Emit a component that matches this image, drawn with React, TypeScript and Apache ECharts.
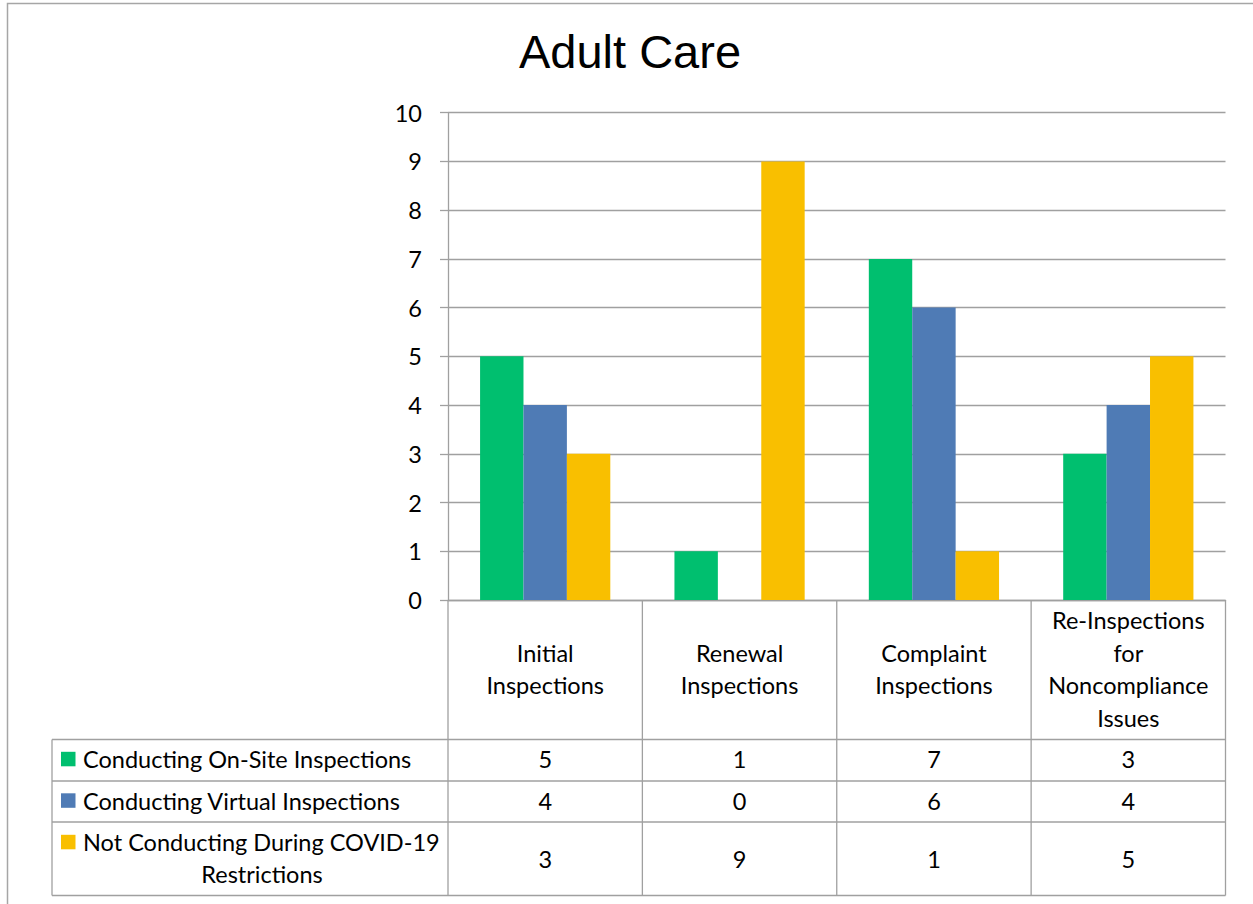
import React, { useEffect, useRef } from 'react';
import * as echarts from 'echarts';

const chartTitle = 'Adult Care';
const categories = [
  'Initial\nInspections',
  'Renewal\nInspections',
  'Complaint\nInspections',
  'Re-Inspections\nfor\nNoncompliance\nIssues',
];
const seriesNames = [
  'Conducting On-Site Inspections',
  'Conducting Virtual Inspections',
  'Not Conducting During COVID-19 Restrictions',
];
const onSite = [5, 1, 7, 3];
const virtualInsp = [4, 0, 6, 4];
const notConducting = [3, 9, 1, 5];
const yMin = 0;
const yMax = 10;
const yInterval = 1;

const colors = ['#00BF6F', '#4F7BB5', '#F9BF00'];
const gridColor = '#A0A0A0';
const FONT = 'Lato, "Noto Sans", sans-serif';
const FS = 23.5;

const W = 1253;
const H = 904;
const GL = 448;
const GR = 1225.5;
const GT = 112.7;
const GB = 600;
const LEG_L = 52;
const rowLines = [739.5, 781, 822, 895.5];
const rowCenters = [759, 800.5, 858.5];

export default function App() {
  const ref = useRef<HTMLDivElement>(null);
  useEffect(() => {
    if (!ref.current) return;
    const chart = echarts.init(ref.current, undefined, { renderer: 'svg' });
    const allSeries = [onSite, virtualInsp, notConducting];
    const colW = (GR - GL) / categories.length;

    const graphics: any[] = [];
    graphics.push({
      type: 'rect',
      shape: { x: 7.5, y: 3.5, width: W + 10, height: H + 10 },
      style: { fill: 'none', stroke: '#A6A6A6', lineWidth: 1.5 },
      silent: true,
    });
    rowLines.forEach((y) => {
      graphics.push({
        type: 'line',
        shape: { x1: LEG_L, y1: y, x2: GR, y2: y },
        style: { stroke: gridColor, lineWidth: 1.3 },
      });
    });
    graphics.push({
      type: 'line',
      shape: { x1: LEG_L, y1: rowLines[0], x2: LEG_L, y2: rowLines[rowLines.length - 1] },
      style: { stroke: gridColor, lineWidth: 1.3 },
    });
    for (let i = 0; i <= categories.length; i++) {
      const x = GL + i * colW;
      graphics.push({
        type: 'line',
        shape: { x1: x, y1: GB, x2: x, y2: rowLines[rowLines.length - 1] },
        style: { stroke: gridColor, lineWidth: 1.3 },
      });
    }
    seriesNames.forEach((name, i) => {
      const cy = i < 2 ? rowCenters[i] : 842;
      graphics.push({
        type: 'rect',
        shape: { x: 61, y: cy - 7.2, width: 14.5, height: 14.5 },
        style: { fill: colors[i] },
      });
      if (i < 2) {
        graphics.push({
          type: 'text',
          x: 83,
          y: cy,
          style: {
            text: name,
            font: `${FS}px ${FONT}`,
            fill: '#000',
            align: 'left',
            verticalAlign: 'middle',
          },
        });
      } else {
        const words = name.split(' ');
        const line1 = words.slice(0, 4).join(' ');
        const line2 = words.slice(4).join(' ');
        graphics.push({
          type: 'text',
          x: 83,
          y: 841.7,
          style: { text: line1, font: `${FS}px ${FONT}`, fill: '#000', align: 'left', verticalAlign: 'middle' },
        });
        graphics.push({
          type: 'text',
          x: 262,
          y: 873.7,
          style: { text: line2, font: `${FS}px ${FONT}`, fill: '#000', align: 'center', verticalAlign: 'middle' },
        });
      }
    });
    graphics.push({
      type: 'text',
      x: 630,
      y: 51,
      style: {
        text: chartTitle,
        font: '47px "Liberation Sans", Arial, sans-serif',
        fill: '#000',
        align: 'center',
        verticalAlign: 'middle',
      },
    });

    const valueAxes = allSeries.map((vals, k) => ({
      type: 'category',
      data: categories,
      position: 'bottom',
      gridIndex: 0,
      axisLine: { show: false },
      axisTick: { show: false },
      splitLine: { show: false },
      axisLabel: {
        interval: 0,
        margin: rowCenters[k] - GB,
        verticalAlign: 'middle',
        fontFamily: FONT,
        fontSize: FS,
        color: '#000',
        formatter: (_v: string, idx: number) => String(vals[idx]),
      },
    }));

    chart.setOption({
      animation: false,
      backgroundColor: '#fff',
      graphic: graphics,
      grid: { left: GL, right: W - GR, top: GT, bottom: H - GB, containLabel: false },
      xAxis: [
        {
          type: 'category',
          data: categories,
          position: 'bottom',
          axisLine: { show: true, lineStyle: { color: gridColor, width: 1.3 } },
          axisTick: { show: false },
          axisLabel: {
            interval: 0,
            margin: 669 - GB,
            verticalAlign: 'middle',
            lineHeight: 32.8,
            fontFamily: FONT,
            fontSize: FS,
            color: '#000',
          },
        },
        ...valueAxes,
      ],
      yAxis: {
        type: 'value',
        min: yMin,
        max: yMax,
        interval: yInterval,
        axisLine: { show: true, lineStyle: { color: gridColor, width: 1.3 } },
        axisTick: { show: true, length: 8, lineStyle: { color: gridColor, width: 1.3 } },
        splitLine: { show: true, lineStyle: { color: gridColor, width: 1.3 } },
        axisLabel: {
          margin: 26,
          fontFamily: FONT,
          fontSize: FS,
          color: '#000',
        },
      },
      series: allSeries.map((vals, i) => ({
        name: seriesNames[i],
        type: 'bar',
        data: vals,
        xAxisIndex: 0,
        yAxisIndex: 0,
        barGap: '0%',
        barCategoryGap: '33%',
        itemStyle: { color: colors[i] },
        silent: true,
      })),
    });
    return () => chart.dispose();
  }, []);
  return (
    <div
      ref={ref}
      style={{ position: 'absolute', left: 0, top: 0, width: W, height: H, background: '#fff' }}
    />
  );
}
